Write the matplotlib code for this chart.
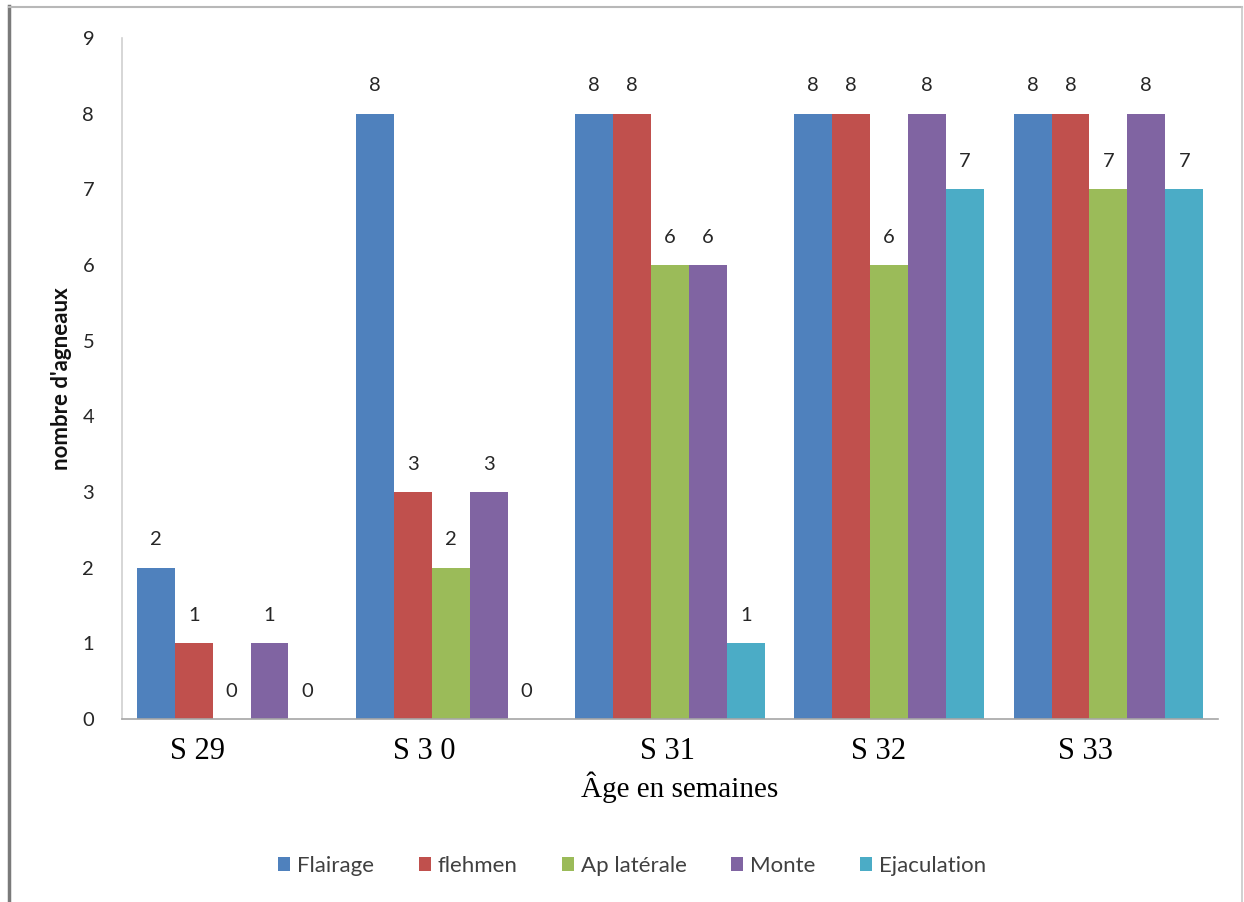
import matplotlib
matplotlib.use("Agg")
import matplotlib.pyplot as plt
import matplotlib.transforms as mtransforms
import numpy as np
from matplotlib.lines import Line2D

categories = ["S 29", "S 3 0", "S 31", "S 32", "S 33"]
series_names = ["Flairage", "flehmen", "Ap latérale", "Monte", "Ejaculation"]
flairage = [2, 8, 8, 8, 8]
flehmen = [1, 3, 8, 8, 8]
ap_laterale = [0, 2, 6, 6, 7]
monte = [1, 3, 6, 8, 8]
ejaculation = [0, 0, 1, 7, 7]
series_values = [flairage, flehmen, ap_laterale, monte, ejaculation]
colors = ["#4F81BD", "#C0504D", "#9BBB59", "#8064A2", "#4BACC6"]
y_ticks = list(range(0, 10))

W, H = 1244, 902
fig = plt.figure(figsize=(W / 100, H / 100), dpi=100)
fig.patch.set_facecolor("white")

ax = fig.add_axes([122 / W, 1 - 719 / H, 1096 / W, (719 - 38) / H])
x = np.arange(len(categories))
bw = 0.173
n = len(series_values)
for i, (vals, col, name) in enumerate(zip(series_values, colors, series_names)):
    pos = x + (i - (n - 1) / 2) * bw
    ax.bar(pos, vals, width=bw, color=col, label=name, zorder=2)
    for px, v in zip(pos, vals):
        ax.annotate(str(v), (px, v), xytext=(0, 20), textcoords="offset points",
                    ha="center", va="center", fontsize=14.5, family="Lato",
                    color="#262626")

ax.set_xlim(-0.5, len(categories) - 0.5)
ax.set_ylim(0, 9)
ax.set_yticks(y_ticks)
ax.set_yticklabels([str(t) for t in y_ticks], family="Lato", fontsize=14.5,
                   color="#262626")
ax.set_xticks(x)
ax.set_xticklabels(categories, family="Liberation Serif", fontsize=22)
ax.tick_params(axis="y", length=0, pad=20)
ax.tick_params(axis="x", length=0, pad=13)

# the week labels sit slightly left of their group centres
label_shift_px = [-34, -27, -2, -11, -23]
for lab, dx in zip(ax.get_xticklabels(), label_shift_px):
    off = mtransforms.ScaledTranslation(dx / 100, 0, fig.dpi_scale_trans)
    lab.set_transform(lab.get_transform() + off)

for s in ["top", "right"]:
    ax.spines[s].set_visible(False)
ax.spines["left"].set_color("#d0d0d0")
ax.spines["bottom"].set_color("#a6a6a6")
ax.spines["left"].set_linewidth(1.2)
ax.spines["bottom"].set_linewidth(1.2)

ax.text((680 - 122) / 1096, -(797 - 719) / 681, "Âge en semaines",
        transform=ax.transAxes, ha="center", va="baseline",
        family="Liberation Serif", fontsize=21)
ax.text(-(122 - 62) / 1096, 0.5, "nombre d'agneaux", transform=ax.transAxes,
        rotation=90, ha="center", va="center", family="Lato", fontsize=16,
        fontweight="bold", color="#111111")

leg = fig.legend(loc="center", bbox_to_anchor=(632 / W, 1 - 866 / H), ncol=5,
                 frameon=False, prop={"family": "Lato", "size": 16},
                 handlelength=0.55, handleheight=0.55, handletextpad=0.3,
                 columnspacing=2.0)
for t in leg.get_texts():
    t.set_color("#404040")

# outer frame
fig.add_artist(Line2D([9 / W, 9 / W], [0, 1 - 6 / H], transform=fig.transFigure,
                      color="#7a7a7a", linewidth=2.5))
fig.add_artist(Line2D([9 / W, 1242 / W], [1 - 7 / H, 1 - 7 / H],
                      transform=fig.transFigure, color="#b8b8b8", linewidth=1.5))
fig.add_artist(Line2D([1242 / W, 1242 / W], [0, 1 - 7 / H],
                      transform=fig.transFigure, color="#c8c8c8", linewidth=1.2))

fig.savefig("out.png", dpi=100, facecolor="white")
